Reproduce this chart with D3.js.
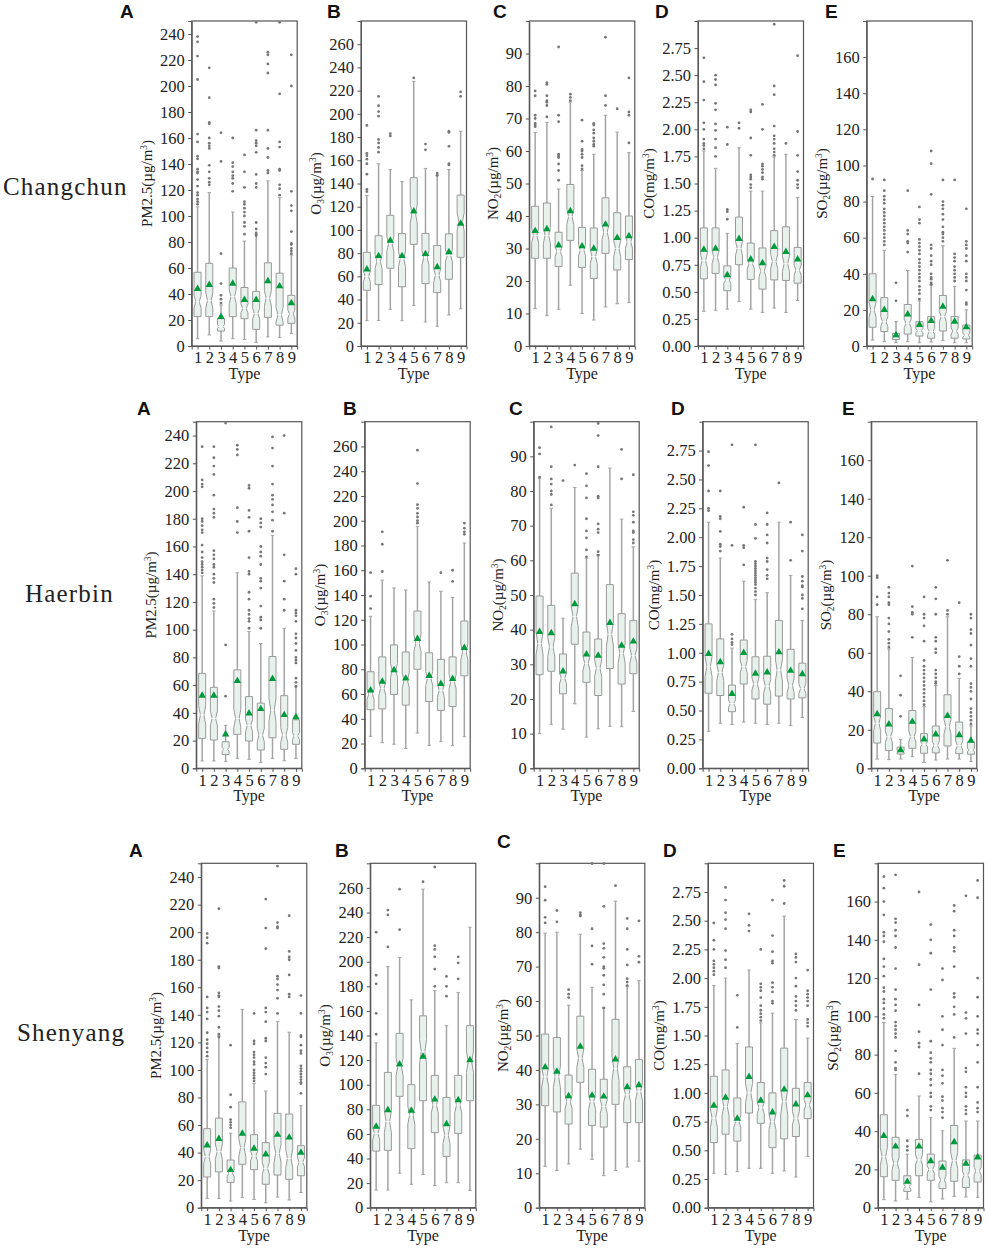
<!DOCTYPE html>
<html>
<head>
<meta charset="utf-8">
<script src="https://cdn.jsdelivr.net/npm/d3@7"></script>
<style>
    html, body { margin: 0; padding: 0; background: #fff; }
    svg { display: block; }
    text { font-family: "Liberation Serif", serif; fill: #222; }
    .letter { font-family: "Liberation Sans", sans-serif; font-weight: bold; font-size: 19px; fill: #111; }
    .city { font-size: 25px; letter-spacing: 1.2px; }
    .axis text { font-size: 16.5px; font-family: "Liberation Serif", serif; fill: #222; }
    .axis path, .axis line { stroke: #555; }
</style>
</head>
<body>
<div id="root"></div>
<script>
// Box values are [low whisker, q1, median, q3, high whisker, mean], one row per type
// Changchun
const ccPmBox = [[5.6,22.6,34,56.7,107,44],[8.5,22.6,35,63.6,118,47],[3.8,11.5,15,21,31.5,22.5],[5.6,22.6,38,60,103,48],[5,21,29,45,80.7,35.5],[2.8,12.8,25,42,86,35.5],[7,22,36.7,64,127,50],[6.5,16,24,56,114,46],[9.7,17.4,24.6,39,70,33]];
const ccPmOut = [[238,234,223,205,163,157,146,144,136,134,133,128,123,118,116,113,111,109],[214,191,172,171,160,156,154,152,139,134,129,126,124],[164,142,71,48,39,36,33],[160,141,138,134,131,129,125,119],[147,134,122,111,109,106,103,100,95,92,86],[249,166,158,156,154,149,132,125,122,95,90,87,85],[226,224,217,210,166,152,145,135,133],[249,194,157,153,136,135,124,121,116],[224,200,119,108,104,88,79,78,75,73,71]];
const ccO3Box = [[21.8,48,60,80.7,129.6,66],[22,53,72.7,95,157,77.6],[31.6,67,88,112.6,152,90.8],[21.8,51,75,96.8,141.7,77.6],[35,87.6,114,145,228,116],[20.7,53.7,76,97,153,79.3],[17,46,61,86.5,147,68],[26.7,57.5,78,96.6,152,81],[32,76.4,107,130,185,105.5]];
const ccO3Out = [[190,166,164,161,157,148,135,133],[215,207,202,198,178,175,171,167],[183,181],[],[231],[174,169],[149,147],[185,184,172,157,156],[219,215]];
const ccNoBox = [[11.5,27,34,43,65.7,35.4],[9.3,27,34,44,68.8,36],[11.3,24.5,29,35,48.3,31],[18.7,32.5,39.8,49.7,75,41.5],[10,24.2,29.5,36.5,54,30.7],[8,20.8,27.5,36.3,59,30],[12,28.5,35,45.6,71,37.4],[13,23.4,30,41,65.8,33.3],[13.4,26.6,32,40,59.5,33.8]];
const ccNoOut = [[78.5,77,71,70,68.5,68,67.5],[81,80.5,77,75.5,75,74,70.5],[92,71,69,59,58.5,58,56,54,51],[77.5,76.5,75.5],[69.5,63,60.5,60,59,58,55.5,54.5],[68.5,68,66.5,65.5,64,63,62,61.5],[95,77,74],[73],[82.5,72,71,62.5]];
const ccCoBox = [[0.32,0.62,0.79,1.09,1.8,0.89],[0.33,0.67,0.82,1.09,1.64,0.9],[0.34,0.51,0.61,0.74,1.04,0.655],[0.41,0.75,0.9,1.19,1.83,0.99],[0.34,0.615,0.76,0.95,1.43,0.8],[0.31,0.525,0.69,0.905,1.43,0.765],[0.35,0.61,0.78,1.065,1.745,0.915],[0.31,0.605,0.76,1.1,1.77,0.87],[0.42,0.58,0.7,0.91,1.37,0.8]];
const ccCoOut = [[2.66,2.44,2.27,2.06,2,1.91,1.87,1.85,1.82],[2.5,2.46,2.41,2.24,2.18,2.05,1.99,1.91,1.83,1.75],[2.02,1.86,1.26,1.24,1.17],[2.06,2.01],[2.18,2.16,1.92,1.76,1.58,1.56,1.54,1.49,1.46],[2.23,2,1.68,1.66,1.63,1.6,1.56,1.54],[2.97,2.4,2.32,2.03,1.94,1.91,1.87,1.82,1.79,1.76],[1.87],[2.68,1.98,1.76,1.61,1.53,1.49,1.46]];
const ccSoBox = [[3.3,10.4,20,40,82.8,26],[2.4,8,13.5,26.8,53,20],[2,3.7,5,7,13.5,6],[2.4,6.6,12.5,23,41.8,17.5],[1.8,5.5,8.5,13.5,25,11.7],[2.2,4.3,8,16.3,33.8,13.9],[3,8.3,16.3,28,55.5,21.8],[1.8,4.3,8.3,16.3,32.9,13.5],[1.8,3.9,6,11.6,20,10.4]];
const ccSoOut = [[92.5],[92,86,83,81,79,76,74,72,70,68,66,64,62,60,58,56],[35,25],[86,64,62,58,57,52],[77,70,68,59,57,55,53,51,48,46,44,42,40,38,36,33,31,29,26],[108,101,84,56,54,50,47,45,40,38,37,35,34],[92,80,78,76,73,70,66,63,62,60,58],[92,51,49,47,44,42,40,38,36],[76,58,56,54,50,47,40,38,36,31,24,23]];

// Haerbin
const hbPmBox = [[5.3,21.6,38.5,68.5,138.8,52.4],[5.3,20.4,36,58.4,113.5,52.4],[4.8,10,13.7,19.2,31,24.5],[7.2,24.5,36,71,141,63],[6.5,19.7,31,51.7,98.6,39.7],[4.3,13.2,24,47,90,42.8],[7.2,22,42,80.6,168,64.5],[5.5,13.7,24,52.4,101,38.5],[7.2,17.3,23.3,35,59.4,37]];
const hbPmOut = [[232,208,205,203,180,178,175,172,170,161,156,152,149,147,145,143,141],[232,224,218,212,197,187,184,181,157,154,151,147,145,140,137,134,122,119,116],[249,89,52],[233,230,226,188,178,170],[204,202,186,181,171,152,142,140,127,122,114,111,108,106,101],[180,177,174,160,156,153,147,137,135,130,117,109,107,101],[239,231,218,205,197,194,190,185,179,171],[240,184,154,135,122,114],[144,140,114,112,110,106,97,94,90,85,80,78,76,65,62,59]];
const hbO3Box = [[25.8,47.3,60,78,122.8,63],[20.7,48,64.5,90,152,70],[19.4,59.7,79,99.7,145.7,79.3],[16,51,71,94,144,72.6],[28.5,80,101,127,195.4,104.6],[18.5,54,72.6,93.3,150.5,74.7],[21.5,46.8,63,88,143,68.3],[18.3,50,70,90,138,72.3],[25.5,74.7,94,119,182,97.3]];
const hbO3Out = [[158,139,129],[191,181,159],[],[],[257,230,213,210,206,203,200,198],[],[158],[160,151],[198,194,191,189]];
const hbNoBox = [[10,27,36,49.7,83.7,39.4],[12.7,28,35,47,75,39],[11.3,21.5,26,33,43.3,28],[18.6,35.8,43.8,56.3,81,47.4],[9,24.8,30.3,39.3,60.6,32.9],[11.4,21,28.9,37.3,61.6,32.5],[12.1,28.8,38.7,53,86.6,42],[12,24.3,33.2,44.6,71.9,35.4],[16.4,27.3,32.5,42.6,63.9,36.6]];
const hbNoOut = [[92.5,90.7,84],[98.5,87,83.5,82,80,79,76],[83],[87.5],[85,81.5,78,72,68.5,66.5,63,61],[99.5,96,87,78.5,78,70.5,69,68,62.5,61.5],[],[92,83.5],[84.7,74,73,71,68.5,68,66,65]];
const hbCoBox = [[0.32,0.65,0.88,1.25,2.13,0.99],[0.39,0.63,0.83,1.12,1.82,0.92],[0.38,0.49,0.56,0.72,1.04,0.645],[0.4,0.73,0.88,1.11,1.62,1],[0.39,0.6,0.73,0.965,1.46,0.82],[0.38,0.555,0.71,0.97,1.52,0.83],[0.39,0.625,0.85,1.28,2.13,1.005],[0.37,0.6,0.715,1.03,1.67,0.845],[0.44,0.61,0.69,0.91,1.28,0.815]];
const hbCoOut = [[2.74,2.62,2.4,2.25,2.23],[2.4,2.18,2.16,2.05,1.94,1.92,1.88],[2.8,1.93,1.16,1.12,1.09,1.07],[2.26,1.93,1.91,1.76],[2.8,2.11,1.99,1.79,1.77,1.75,1.73,1.71,1.69,1.67,1.65,1.63,1.61,1.59,1.56,1.53,1.5],[2.21,2.11,2.02,1.95,1.82,1.79,1.72,1.67,1.64],[2.47],[2.13,1.8],[2.02,1.88,1.66,1.62,1.58,1.57,1.5,1.47,1.38]];
const hbSoBox = [[4.8,13.1,23.4,39.8,78.7,28.2],[4.5,9.3,16.4,31,62,22.8],[4.8,7.4,8.6,11,15,9.5],[6,10.4,16.4,30,57.6,24.2],[3,7.8,12.5,18,32,15],[4.3,8,12,22,43,17.6],[4.8,11.6,21.6,38.2,78.7,27.3],[4.8,7.6,11.8,24,46.7,17.3],[3.5,7.3,9.5,13.7,22,14.4]];
const hbSoOut = [[100,99,89,85],[94,91,89,86,85,78,75,71,67,65,63],[48,38,27],[105,84,81,80,68],[89,80,78,74,66,56,53,51,49,47,45,43,41,39,37,35,33],[94,88,80,68,66,62,60,51,49,47,45,44],[108,82,80],[86,58,53,49],[80,78,72,70,64,57,53,44,42,40,36,31,29,27,25,23]];

// Shenyang
const syPmBox = [[6.8,22.3,37,57.4,107.7,45.3],[6.8,26,40.7,65,124.7,50],[4.8,18.4,25,34.6,54,27.4],[7.5,31.5,43.6,76.8,144,53.8],[6,27.6,37.5,53,90.3,42.9],[3.6,17,28.6,47.2,84.7,38.7],[7.7,23.7,39.5,68.5,135,53],[5.6,20.6,35.8,68,127.4,51],[11,23.2,33,45,74,40]];
const syPmOut = [[199,196,192,153,145,142,137,127,122,119,116,113,110],[217,175,174,156,154,153,146,143,139,131,126,124],[118,82,73,64,62,60,58],[],[141,121,119,113,111,109,106,104,100,98,96,94,92],[224,203,188,145,142,135,123,121,109,105,102,97],[248,207,204,203,168,166,162,158,152,141],[212,186,182,180,169,155,153],[154,141,125,124,118,114,112,103,101,99,97,95,93,91,90,83]];
const syO3Box = [[14.4,46,60.4,83.2,134,65.9],[14.4,46.6,70,110,196,79.4],[28,90.5,114.6,141.7,203.5,116.5],[19,48,75.3,100,169,79],[27,87,126.8,156,259,122.8],[18,61,83.5,107.6,176.4,88],[20.3,41.7,59,89.7,148,68],[20.3,60.4,83.5,107.6,175,87.5],[14,87,118.7,148,228,120]];
const syO3Out = [[224,189,182,158,141],[242,238,212],[259,226],[],[265],[277,213,210,204,194,180],[188,180,172],[204,199,186],[]];
const syNoBox = [[12,29.6,38,50.4,79.7,40.8],[10.8,27.8,38,49.4,80,39.5],[12.7,24.3,30.8,38.5,58.8,32.4],[17,36.4,43.4,55.6,79.4,46.8],[14,23.9,30.8,40.2,64,32.6],[9.3,23.4,29.4,37.3,58,32.3],[10.8,30,40.5,54.7,89,43.1],[11.8,24.7,32.8,40.9,64.3,35],[13.5,24.7,33.7,43,65.9,35.6]];
const syNoOut = [[93.2,89.3,84.3,82.7],[86.3,83],[63.3,62,61],[85.7,85,84.7],[99.9,81,76,70.7],[99.9,87.5,76.7,75.3,72.7,70,69.5,67.5,64.7,62,58],[93.5],[84,81,75,70.5,66.5,65.5,64.5],[83.3,73,71.3]];
const syCoBox = [[0.3,0.567,0.78,1.145,1.935,0.89],[0.29,0.64,0.88,1.2,2,0.96],[0.314,0.58,0.75,0.956,1.43,0.776],[0.343,0.825,1,1.4,2.07,1.14],[0.343,0.735,0.87,1.09,1.61,0.933],[0.3,0.523,0.75,1,1.695,0.83],[0.32,0.6,0.925,1.39,2.54,1.03],[0.267,0.62,0.78,1.04,1.64,0.9],[0.447,0.776,0.895,1.09,1.477,0.98]];
const syCoOut = [[2.48,2.33,2.25,2.15,2.12,2.09,2.06,2.03],[2.79,2.68,2.57,2.51,2.43,2.24,2.16,2.09],[1.85,1.57],[2.56,2.46,2.41],[2.25,1.95,1.92,1.89,1.83,1.76,1.72,1.69,1.66,1.63],[2.68,2.37,2.23,2.15,2.13,1.96,1.92,1.88,1.8,1.78],[2.85,2.8,2.65],[2.21,2.18,2.14,2,1.93,1.84,1.8,1.76,1.72],[2.07,1.89,1.86,1.83,1.8,1.76,1.64,1.61,1.58]];
const sySoBox = [[4.2,16.2,26.7,48.6,96.9,37.6],[3.5,14.3,23.2,36.8,69.7,32],[4.5,8.5,11,16.7,28,13.6],[5.4,16.7,25,35.7,58.4,32],[3.1,14.3,20,28,47.2,24.4],[4.5,10,14.5,24.4,40.2,21],[5.9,13.8,24.6,43,83.3,34.3],[5.6,10.6,17,25,45.3,23],[5.4,13.4,19.2,27.5,45.3,26.3]];
const sySoOut = [[173,167,160,153,144,142,139,130,126,121,115,113,109,107,104,101,99],[174,151,149,145,142,136,125,114,109,106,103,97,95,93,91,89,82,76,73,72],[51,48,35,32,30],[165,127,106,92,86,84,70],[148,140,133,114,87,81,78,76,72,70,67,64,60,58,53,51],[125,119,100,93,85,72,69,65,58,56,52,50,47],[158,155,145,142,136,134,126,112,110,105,101,89],[163,102,99,91,73,71,63,60,58,53,51,49],[171,162,120,110,100,93,91,85,76,63,55,52,50]];

// Axis ticks
const types = [1, 2, 3, 4, 5, 6, 7, 8, 9];
const pmTicks = [0, 20, 40, 60, 80, 100, 120, 140, 160, 180, 200, 220, 240];
const o3Ticks = [0, 20, 40, 60, 80, 100, 120, 140, 160, 180, 200, 220, 240, 260];
const noTicks = [0, 10, 20, 30, 40, 50, 60, 70, 80, 90];
const coTicks = [0, 0.25, 0.5, 0.75, 1, 1.25, 1.5, 1.75, 2, 2.25, 2.5, 2.75];
const soTicks = [0, 20, 40, 60, 80, 100, 120, 140, 160];

const cities = ['Changchun', 'Haerbin', 'Shenyang'];

// One entry per pollutant column; label parts are [text, 'sub' | 'sup' | null]
const columns = [
    { letter: 'A', max: 250, ticks: pmTicks, fmt: d3.format('d'), labelX: 45, label: [['PM2.5(µg/m', null], ['3', 'sup'], [')', null]] },
    { letter: 'B', max: 280, ticks: o3Ticks, fmt: d3.format('d'), labelX: 45, label: [['O', null], ['3', 'sub'], ['(µg/m', null], ['3', 'sup'], [')', null]] },
    { letter: 'C', max: 100, ticks: noTicks, fmt: d3.format('d'), labelX: 36, label: [['NO', null], ['2', 'sub'], ['(µg/m', null], ['3', 'sup'], [')', null]] },
    { letter: 'D', max: 3, ticks: coTicks, fmt: d3.format('.2f'), labelX: 49, label: [['CO(mg/m', null], ['3', 'sup'], [')', null]] },
    { letter: 'E', max: 180, ticks: soTicks, fmt: d3.format('d'), labelX: 45, label: [['SO', null], ['2', 'sub'], ['(µg/m', null], ['3', 'sup'], [')', null]] }
];

const boxes = [
    [ccPmBox, ccO3Box, ccNoBox, ccCoBox, ccSoBox],
    [hbPmBox, hbO3Box, hbNoBox, hbCoBox, hbSoBox],
    [syPmBox, syO3Box, syNoBox, syCoBox, sySoBox]
];
const outliers = [
    [ccPmOut, ccO3Out, ccNoOut, ccCoOut, ccSoOut],
    [hbPmOut, hbO3Out, hbNoOut, hbCoOut, hbSoOut],
    [syPmOut, syO3Out, syNoOut, syCoOut, sySoOut]
];

// Where things sit on the page
const rowLayout = [
    { top: 21, bottom: 346, lefts: [191.7, 361, 529.3, 698, 866.7], width: 105.5,
      city: { x: 3, y: 195 }, letterY: [18, 18, 18, 18, 18], letterX: [120, 327, 493, 655, 825] },
    { top: 421.7, bottom: 768.3, lefts: [196.3, 364.7, 533.7, 702.7, 871.3], width: 105.5,
      city: { x: 25, y: 602 }, letterY: [415, 415, 415, 415, 415], letterX: [137, 343, 509, 671, 842] },
    { top: 863.3, bottom: 1207.7, lefts: [201.3, 370.3, 539.3, 708, 878], width: 105.5,
      city: { x: 17, y: 1041 }, letterY: [857, 857, 848, 857, 857], letterX: [129, 335, 497, 663, 833] }
];

const boxWidth = 0.6;
const notchDays = 120;   // roughly how many days fall in a type, sets the notch depth

const svg = d3.select('#root').append('svg')
    .attr('width', 989)
    .attr('height', 1250);

// Draw a single boxplot panel
function drawPanel(g, col, box, out, height, width) {
    const x = d3.scaleLinear().domain([0.5, 9.5]).range([0, width]);
    const y = d3.scaleLinear().domain([0, col.max]).range([height, 0]);
    const bw = x(boxWidth) - x(0);

    // Axes first so the marks go over them
    g.append('g').attr('class', 'axis')
        .attr('transform', 'translate(0,' + height + ')')
        .call(d3.axisBottom(x).tickValues(types).tickFormat(d3.format('d')).tickSize(3.5).tickPadding(2));
    g.append('g').attr('class', 'axis')
        .call(d3.axisLeft(y).tickValues(col.ticks).tickFormat(col.fmt).tickSize(3.5).tickPadding(3.5));
    g.append('rect')
        .attr('width', width).attr('height', height)
        .attr('fill', 'none').attr('stroke', '#555').attr('stroke-width', 1.2);

    const stat = g.selectAll('g.stat').data(box).enter().append('g')
        .attr('class', 'stat')
        .attr('transform', (d, i) => 'translate(' + x(types[i]) + ',0)');

    // Whiskers
    stat.append('line')
        .attr('y1', d => y(d[0])).attr('y2', d => y(d[1]))
        .attr('stroke', '#a4a4a4').attr('stroke-width', 1.5);
    stat.append('line')
        .attr('y1', d => y(d[3])).attr('y2', d => y(d[4]))
        .attr('stroke', '#a4a4a4').attr('stroke-width', 1.5);
    [0, 4].forEach(k => {
        stat.append('line')
            .attr('x1', -bw / 4).attr('x2', bw / 4)
            .attr('y1', d => y(d[k])).attr('y2', d => y(d[k]))
            .attr('stroke', '#a4a4a4').attr('stroke-width', 1);
    });

    // Notched box
    stat.append('path')
        .attr('fill', '#e9f1ed')
        .attr('stroke', '#9a9a9a')
        .attr('stroke-width', 1)
        .attr('d', d => {
            const half = 1.57 * (d[3] - d[1]) / Math.sqrt(notchDays);
            const a = bw / 2, b = bw / 4;
            return 'M' + (-a) + ',' + y(d[1]) + 'L' + a + ',' + y(d[1])
                + 'L' + a + ',' + y(d[2] - half) + 'L' + b + ',' + y(d[2])
                + 'L' + a + ',' + y(d[2] + half) + 'L' + a + ',' + y(d[3])
                + 'L' + (-a) + ',' + y(d[3]) + 'L' + (-a) + ',' + y(d[2] + half)
                + 'L' + (-b) + ',' + y(d[2]) + 'L' + (-a) + ',' + y(d[2] - half) + 'Z';
        });

    // Median
    stat.append('line')
        .attr('x1', -bw / 4).attr('x2', bw / 4)
        .attr('y1', d => y(d[2])).attr('y2', d => y(d[2]))
        .attr('stroke', '#fff').attr('stroke-width', 1.2);

    // Mean
    stat.append('path')
        .attr('d', d3.symbol().type(d3.symbolTriangle).size(24))
        .attr('transform', d => 'translate(0,' + y(d[5]) + ')')
        .attr('fill', '#009a3c');

    // Outliers
    stat.data(out).selectAll('circle').data(d => d).enter().append('circle')
        .attr('cy', d => y(d))
        .attr('r', 1.4)
        .attr('fill', '#777');

    // Axis titles
    g.append('text')
        .attr('x', width / 2).attr('y', height + 33)
        .attr('text-anchor', 'middle')
        .style('font-size', '16px')
        .text('Type');

    const yTitle = g.append('text')
        .attr('transform', 'translate(' + (-col.labelX + 5) + ',' + (height / 2) + ') rotate(-90)')
        .attr('text-anchor', 'middle')
        .style('font-size', '15px');
    let shiftNow = 0;
    col.label.forEach(p => {
        const shift = p[1] === 'sup' ? -5 : (p[1] === 'sub' ? 3 : 0);
        yTitle.append('tspan')
            .attr('dy', shift - shiftNow)
            .style('font-size', p[1] ? '9.5px' : null)
            .text(p[0]);
        shiftNow = shift;
    });
}

rowLayout.forEach((row, r) => {
    svg.append('text')
        .attr('class', 'city')
        .attr('x', row.city.x).attr('y', row.city.y)
        .text(cities[r]);

    columns.forEach((col, c) => {
        svg.append('text')
            .attr('class', 'letter')
            .attr('x', row.letterX[c]).attr('y', row.letterY[c])
            .text(col.letter);

        const g = svg.append('g')
            .attr('transform', 'translate(' + row.lefts[c] + ',' + row.top + ')');
        drawPanel(g, col, boxes[r][c], outliers[r][c], row.bottom - row.top, row.width);
    });
});
</script>
</body>
</html>
